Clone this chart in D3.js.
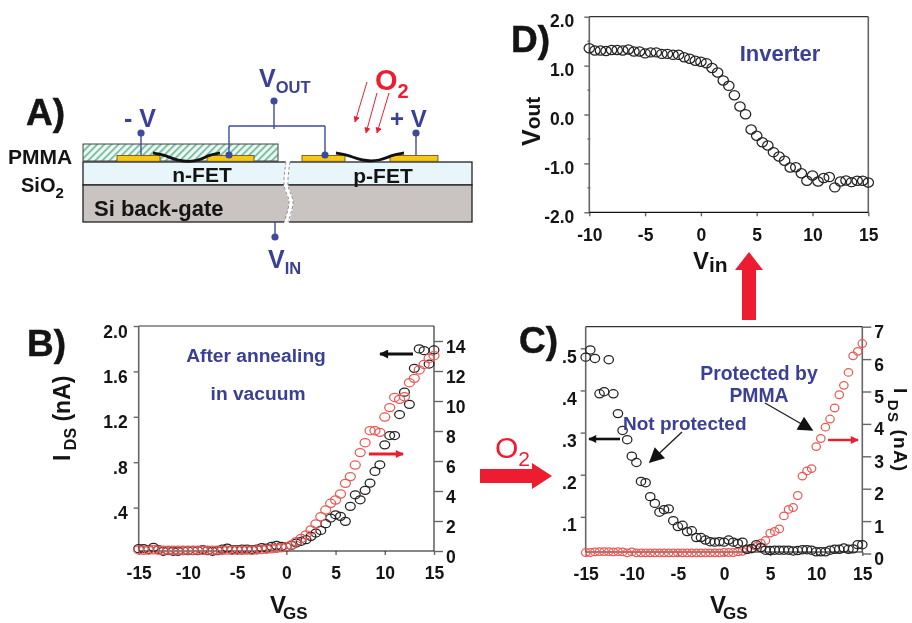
<!DOCTYPE html>
<html>
<head>
<meta charset="utf-8">
<script src="https://cdn.jsdelivr.net/npm/d3@7/dist/d3.min.js"></script>
<style>
html,body{margin:0;padding:0;background:#fff}
svg{display:block;filter:blur(.35px)}
text{font-family:"Liberation Sans",Arial,sans-serif;font-weight:700}
</style>
</head>
<body>
<svg id="c" width="912" height="623" viewBox="0 0 912 623"></svg>
<script>
// ---------- data ----------
const vgsSweep = [-15,-14.5,-14,-13.5,-13,-12.5,-12,-11.5,-11,-10.5,-10,-9.5,-9,-8.5,-8,-7.5,-7,-6.5,-6,-5.5,-5,-4.5,-4,-3.5,-3,-2.5,-2,-1.5,-1,-0.5,0,0.5,1,1.5,2,2.5,3,3.5,4,4.5,5,5.5,6,6.5,7,7.5,8,8.5,9,9.5,10,10.5,11,11.5,12,12.5,13,13.5,14,14.5,15];
const vinSweep = [-10,-9.5,-9,-8.5,-8,-7.5,-7,-6.5,-6,-5.5,-5,-4.5,-4,-3.5,-3,-2.5,-2,-1.5,-1,-0.5,0,0.5,1,1.5,2,2.5,3,3.5,4,4.5,5,5.5,6,6.5,7,7.5,8,8.5,9,9.5,10,10.5,11,11.5,12,12.5,13,13.5,14,14.5,15];

const annealedLeftIds = [.038,.038,.03,.05,.03,.015,.02,.015,.015,.02,.02,.02,.02,.03,.02,.015,.02,.035,.044,.03,.03,.035,.035,.03,.035,.047,.044,.059,.067,.059,
 .053,.067,.088,.103,.117,.147,.176,.199,.258,.308,.337,.323,.279,.411,.513,.469,.552,.616,.719,.777,.953,1.035,1.035,1.22,1.417,1.31,1.627,1.798,1.783,1.665,1.789];
const annealedRightIds = [.07,.05,.06,.08,.06,.05,.06,.05,.06,.05,.06,.05,.06,.05,.06,.05,.06,.05,.06,.05,.06,.05,.06,.05,.07,
 .1,.12,.15,.18,.22,
 .29,.4,.62,.84,1.07,1.4,1.8,2.29,2.73,3.18,3.4,3.8,4.51,4.96,5.73,6.56,7.22,8.02,8.02,7.91,8.93,9.56,10.24,10.11,10.29,11.22,11.51,12.07,12.44,12.84,13.02];

const oxygenLeftIds = [.479,.496,.476,.392,.397,.473,.392,.345,.305,.283,.244,.229,.184,.181,.148,.132,.111,.117,.119,.091,.077,.080,.065,.067,.051,.051,
 .045,.041,.040,.041,.040,.045,.040,.037,.040,.023,.025,.034,.027,.021,.020,.021,.021,.021,.021,.019,.020,.022,.022,.021,.017,.017,.017,.021,.023,.023,.026,.023,.024,.034,.034];
const oxygenRightIds = [.03,.03,.05,.06,.06,.06,.05,.06,.05,.02,.05,.02,.02,.02,.02,.02,.02,.02,.02,.02,.02,.02,.02,.02,.02,.02,.02,.02,.02,.02,.03,.03,.03,
 .05,.07,.11,.14,.22,.32,.40,.63,.68,.76,1.16,1.36,1.42,1.79,2.39,2.55,2.62,3.3,3.55,3.9,4.15,4.49,4.9,5.19,5.59,6.10,6.24,6.48];

const inverterVout = [1.356,1.308,1.308,1.30,1.32,1.32,1.31,1.33,1.29,1.29,1.25,1.27,1.27,1.24,1.24,1.22,1.22,1.17,1.14,1.10,1.08,1.05,.95,.86,.695,.586,.395,.164,.007,-.307,-.436,-.566,-.634,-.77,-.859,-.947,-1.083,-1.077,-1.2,-1.356,-1.247,-1.37,-1.30,-1.28,-1.49,-1.37,-1.35,-1.383,-1.356,-1.356,-1.39];

const vgsTicks = [-15,-10,-5,0,5,10,15];
const vinTicks = [-10,-5,0,5,10,15];
const bLeftTicks = [.4,.8,1.2,1.6,2.0];
const bLeftLabels = [".4",".8","1.2","1.6","2.0"];
const bRightTicks = [0,2,4,6,8,10,12,14];
const cLeftTicks = [.1,.2,.3,.4,.5];
const cLeftLabels = [".1",".2",".3",".4",".5"];
const cRightTicks = [0,1,2,3,4,5,6,7];
const dTicks = [-2,-1,0,1,2];
const dLabels = ["-2.0","-1.0","0.0","1.0","2.0"];
const dMinorTicks = [-1.5,-.5,.5,1.5];

// ---------- palette ----------
const BLUE = "#3a4096", RED = "#ee1c30", INK = "#141414", CIRCLE_RED = "#ea5a55", CIRCLE_BLACK = "#222", FRAME = "#666";

const svg = d3.select("#c");
const defs = svg.append("defs");
const hatch = defs.append("pattern").attr("id","hatch").attr("width",5).attr("height",5)
  .attr("patternUnits","userSpaceOnUse").attr("patternTransform","rotate(-45)");
hatch.append("rect").attr("width",5).attr("height",5).attr("fill","#eef8f2");
hatch.append("rect").attr("width",5).attr("height",1.7).attr("fill","#6db89b");

function marker(id,color,w,h){
  defs.append("marker").attr("id",id).attr("viewBox","0 0 10 10").attr("refX",9).attr("refY",5)
    .attr("markerUnits","userSpaceOnUse").attr("markerWidth",w).attr("markerHeight",h).attr("orient","auto")
    .append("path").attr("d","M0,0L10,5L0,10Z").attr("fill",color);
}
marker("hBlack","#111",12,9);
marker("hSmallBlack","#111",12,8);
marker("hRed",RED,12,8);
marker("hThinRed",RED,7,6);
marker("hLeader","#111",16,15);

function label(parts,x,y,opt={}){
  const t = svg.append("text").attr("x",x).attr("y",y).attr("fill",opt.fill||INK)
    .attr("font-size",opt.size||16).attr("text-anchor",opt.anchor||"start");
  if(opt.rotate!==undefined) t.attr("transform",`rotate(${opt.rotate} ${x} ${y})`);
  if(opt.weight) t.style("font-weight",opt.weight);
  parts.forEach(p=>{
    const s=t.append("tspan").text(p.t);
    if(p.size) s.attr("font-size",p.size);
    if(p.dy!==undefined) s.attr("dy",p.dy);
    if(p.dx!==undefined) s.attr("dx",p.dx);
  });
  return t;
}
const line=(x1,y1,x2,y2,stroke,w,mark)=>{
  const l=svg.append("line").attr("x1",x1).attr("y1",y1).attr("x2",x2).attr("y2",y2).attr("stroke",stroke).attr("stroke-width",w);
  if(mark) l.attr("marker-end",`url(#${mark})`);
  return l;
};

// ---------- chart frame helper ----------
function frame(x,yLeft,yRight,o){
  const [x0,x1]=x.range(), yB=o.bottom, yT=o.top;
  const g=svg.append("g");
  function style(sel,dy){
    sel.call(s=>s.select(".domain").remove());
    sel.selectAll("line").attr("stroke",FRAME).attr("stroke-width",1.4);
    sel.selectAll("text").attr("fill",INK).attr("font-size",17.5);
    if(dy!==undefined) sel.selectAll("text").attr("dy",dy);
  }
  g.append("g").attr("transform",`translate(0,${yB})`)
    .call(d3.axisBottom(x).tickValues(o.xTicks).tickSizeInner(4).tickSizeOuter(0).tickPadding(o.xPad||12).tickFormat(d=>String(d)))
    .call(s=>style(s));
  g.append("g").attr("transform",`translate(${x0},0)`)
    .call(d3.axisLeft(yLeft).tickValues(o.leftTicks).tickSize(o.leftTick||5).tickPadding(o.leftPad||5).tickFormat((d,i)=>o.leftLabels[i]))
    .call(s=>style(s,o.leftDy));
  if(yRight){
    g.append("g").attr("transform",`translate(${x1},0)`)
      .call(d3.axisRight(yRight).tickValues(o.rightTicks).tickSize(9).tickPadding(3).tickFormat(d=>String(d)))
      .call(s=>style(s,o.rightDy));
  }
  g.append("line").attr("x1",x0).attr("x2",x0).attr("y1",yT).attr("y2",yB).attr("stroke",FRAME).attr("stroke-width",1.6);
  g.append("line").attr("x1",x1).attr("x2",x1).attr("y1",yT).attr("y2",yB).attr("stroke",FRAME).attr("stroke-width",1.6);
  g.append("line").attr("x1",x0).attr("x2",x1).attr("y1",yT).attr("y2",yT).attr("stroke","#333").attr("stroke-width",1.2);
  g.append("line").attr("x1",x0).attr("x2",x1).attr("y1",yB).attr("y2",yB).attr("stroke","#111").attr("stroke-width",1.2);
}
function series(xs,ys,x,y,color,rx,ry){
  svg.append("g").selectAll("ellipse").data(xs.map((d,i)=>[d,ys[i]])).join("ellipse")
    .attr("cx",d=>x(d[0])).attr("cy",d=>y(d[1])).attr("rx",rx).attr("ry",ry)
    .attr("fill","none").attr("stroke",color).attr("stroke-width",1.25);
}

// ---------- panel B ----------
const bx = d3.scaleLinear().domain([-15,15]).range([138.7,434]);
const byL = d3.scaleLinear().domain([0,2]).range([553,326]);
const byR = d3.scaleLinear().domain([0,15]).range([551,326]);
frame(bx,byL,byR,{top:326,bottom:551,xTicks:vgsTicks,leftTicks:bLeftTicks,leftLabels:bLeftLabels,rightTicks:bRightTicks,leftDy:"11px",rightDy:"11px",leftPad:6});
series(vgsSweep,annealedLeftIds,bx,byL,CIRCLE_BLACK,4.9,4);
series(vgsSweep,annealedRightIds,bx,byR,CIRCLE_RED,5,4.1);

// ---------- panel C ----------
const cx = d3.scaleLinear().domain([-15,15]).range([585.7,862.3]);
const cyL = d3.scaleLinear().domain([0,.5]).range([559,348.3]);
const cyR = d3.scaleLinear().domain([0,7]).range([553.5,326.7]);
frame(cx,cyL,cyR,{top:326.7,bottom:552,xTicks:vgsTicks,leftTicks:cLeftTicks,leftLabels:cLeftLabels,rightTicks:cRightTicks,leftDy:"14px",rightDy:"11px",leftPad:4});
series(vgsSweep,oxygenRightIds,cx,cyR,CIRCLE_RED,4.2,3.8);
series(vgsSweep,oxygenLeftIds,cx,cyL,CIRCLE_BLACK,4.7,4.1);

// ---------- panel D ----------
const dx = d3.scaleLinear().domain([-10,15]).range([589.3,868.3]);
const dy = d3.scaleLinear().domain([-2,2]).range([212.3,16.7]);
frame(dx,dy,null,{top:16.7,bottom:212.3,xTicks:vinTicks,leftTicks:dTicks,leftLabels:dLabels,leftDy:"10px",leftTick:5,leftPad:10,xPad:12});
svg.append("g").attr("transform",`translate(${dx.range()[0]},0)`).selectAll("line").data(dMinorTicks).join("line")
  .attr("x1",-2).attr("x2",1).attr("y1",d=>dy(d)).attr("y2",d=>dy(d)).attr("stroke",FRAME).attr("stroke-width",1.2);
series(vinSweep,inverterVout,dx,dy,CIRCLE_BLACK,5.2,4.6);

// ---------- panel letters ----------
[["A)",26,125],["B)",27,356],["C)",519,353],["D)",511,52]].forEach(d=>
  label([{t:d[0]}],d[1],d[2],{size:37}).attr("stroke",INK).attr("stroke-width",.5));

// ---------- axis titles ----------
label([{t:"I"},{t:" DS",size:16,dy:6},{t:" (nA)",dy:-6}],70,461,{size:23,rotate:-90});
label([{t:"I"},{t:" DS",size:15,dy:6},{t:" (nA)",dy:-6}],894,388,{size:19,rotate:90}).attr("letter-spacing",1.2);
label([{t:"V",size:24},{t:"GS",size:17,dy:6,dx:-3}],270,613);
label([{t:"V",size:24},{t:"GS",size:17,dy:6,dx:-3}],710,613);
label([{t:"V",size:24},{t:"in",size:21,dy:3}],693,269);
label([{t:"V",size:25},{t:"out",size:21,dy:0}],540,146,{rotate:-90});

// ---------- annotations ----------
label([{t:"After annealing"}],256,362,{size:19.2,fill:BLUE,anchor:"middle"});
label([{t:"in vacuum"}],258,400,{size:19.2,fill:BLUE,anchor:"middle"});
label([{t:"Inverter"}],780,61,{size:22,fill:BLUE,anchor:"middle"});
label([{t:"Protected by"}],759,380,{size:19.4,fill:BLUE,anchor:"middle"});
label([{t:"PMMA"}],759,402,{size:19.4,fill:BLUE,anchor:"middle"});
label([{t:"Not protected"}],623,430,{size:19,fill:BLUE});

line(413,354,380,354,"#111",3,"hBlack");
line(369,454,403,454,RED,3,"hRed");
line(620,439,589,439,"#111",2.6,"hSmallBlack");
line(828,440,858,440,RED,2.4,"hRed");
line(682,432,650,462,"#222",1.4,"hLeader");
line(765,403,812,430,"#222",1.4,"hLeader");

// big reaction arrows
svg.append("path").attr("fill",RED).attr("d","M480,469H532V463L552,476L532,489V483H480Z");
svg.append("path").attr("fill",RED).attr("d","M742,320V270H735L749,252L763,270H756V320Z");
label([{t:"O"},{t:"2",size:21,dy:8}],495,458,{size:30,fill:RED,weight:400});

// ---------- device schematic (panel A) ----------
const dg=svg.append("g");
const R=(x,y,w,h,fill,stroke,sw)=>dg.append("rect").attr("x",x).attr("y",y).attr("width",w).attr("height",h).attr("fill",fill).attr("stroke",stroke||"none").attr("stroke-width",sw||0);
R(83,144,195,17,"url(#hatch)","#444",1);
R(83,162,389,23,"#e8f6fc","#222",1.3);
R(83,185,389,37,"#c9c4c1","#222",1.3);
[[117,43],[207,47],[302,43],[390,48]].forEach(d=>R(d[0],155.5,d[1],5.8,"#f6c815","#5a4a10",.8));
const curve=d3.line().curve(d3.curveBasis);
[[[153,153],[165,155],[177,161],[197,162],[208,155],[220,153]],[[336,153],[348,155],[362,161],[380,161],[392,155],[404,153]]]
  .forEach(p=>dg.append("path").attr("d",curve(p)).attr("fill","none").attr("stroke","#111").attr("stroke-width",2.8));
// substrate break
const brk=d3.line().curve(d3.curveCatmullRom);
dg.append("path").attr("d",brk([[288,161],[286,185],[291,202],[286,224]])).attr("fill","none").attr("stroke","#fff").attr("stroke-width",4.5);
[-2,2].forEach(o=>dg.append("path").attr("d",brk([[288+o,162],[286+o,185],[291+o,202],[286+o,222]])).attr("fill","none").attr("stroke","#777").attr("stroke-width",.8).attr("stroke-dasharray","3 2"));
// wires
const W="#3f4a9f";
[[229,126,325,126],[229,126,229,155],[325,126,325,155],[274,101,274,129],[141,133,141,155],[416,133,416,155],[275,222,275,237]]
  .forEach(d=>line(d[0],d[1],d[2],d[3],W,1.4));
[[274,101],[141,133],[416,133],[275,237],[229,155],[325,155]].forEach(d=>
  svg.append("circle").attr("cx",d[0]).attr("cy",d[1]).attr("r",3.6).attr("fill",W));
line(367,82,355,122,RED,1,"hThinRed");
line(377,93,366,133,RED,1,"hThinRed");
line(389,93,377,133,RED,1,"hThinRed");

label([{t:"V",size:25},{t:"OUT",size:16.5,dy:6}],259,87,{fill:BLUE});
label([{t:"V",size:25},{t:"IN",size:16.5,dy:6}],268,268,{fill:BLUE});
label([{t:"- V"}],124,127,{size:25,fill:BLUE});
label([{t:"+ V"}],390,127,{size:24,fill:BLUE});
label([{t:"O",size:29},{t:"2",size:20,dy:8}],375,90,{fill:RED});
label([{t:"PMMA"}],8,164,{size:21});
label([{t:"SiO",size:20},{t:"2",size:15,dy:6}],21,192);
label([{t:"n-FET"}],202,182,{size:21,anchor:"middle"});
label([{t:"p-FET"}],383,183,{size:21,anchor:"middle"});
label([{t:"Si back-gate"}],94,216,{size:22});
</script>
</body>
</html>
